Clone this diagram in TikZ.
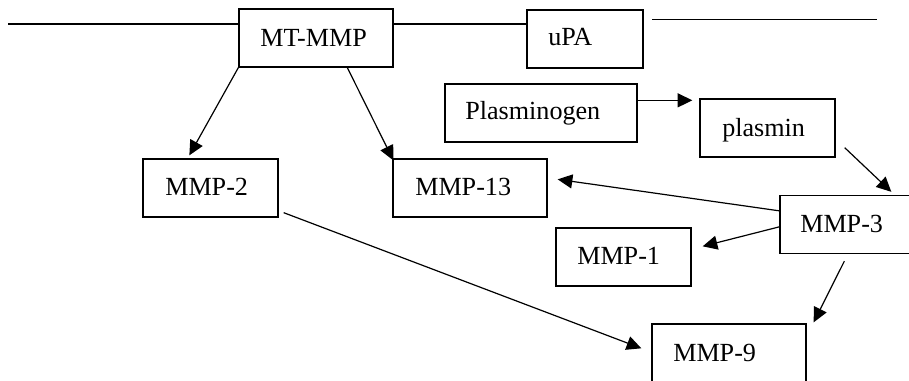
\documentclass[tikz,border=0pt]{standalone}
\usepackage{fontspec}
\setmainfont{Liberation Serif}
\usetikzlibrary{arrows.meta,calc}
\begin{document}
\begin{tikzpicture}[x=0.75pt,y=-0.75pt,
  box/.style={draw,line width=1pt,minimum width=#1*0.75pt,minimum height=43.5pt,inner sep=0pt},
  txt/.style={anchor=base west,inner sep=0pt,font=\fontsize{19.6}{23}\selectfont},
  arr/.style={line width=0.9pt,-{Triangle[length=11pt,width=10.5pt]}},
  plain/.style={line width=0.9pt}]
\useasboundingbox (0,0) rectangle (909,381);
\clip (0,0) rectangle (909,381);
% boxes
\node[box=154] (mt)  at (316,38)    {};
\node[box=116] (upa) at (585,39)    {};
\node[box=192] (plg) at (541,113)   {};
\node[box=135] (pls) at (767.5,128) {};
\node[box=135] (m2)  at (210.5,188) {};
\node[box=154] (m13) at (470,188)   {};
\node[box=154] (m3)  at (857,224.5) {};
\node[box=135] (m1)  at (623.5,257) {};
\node[box=154] (m9)  at (729,353)   {};
% texts
\node[txt] (tmt)  at (260,47)  {MT-MMP};
\node[txt] (tupa) at (548,46)  {uPA};
\node[txt] (tplg) at (465,120) {Plasminogen};
\node[txt] (tpls) at (722,137) {plasmin};
\node[txt] (tm2)  at (165,195) {MMP-2};
\node[txt] (tm13) at (415,195) {MMP-13};
\node[txt] (tm3)  at (800,232) {MMP-3};
\node[txt] (tm1)  at (577,264) {MMP-1};
\node[txt] (tm9)  at (673,361) {MMP-9};
% membrane lines
\coordinate (l0) at (8,24);
\coordinate (r0) at (652,20);
\coordinate (r1) at (877,20);
\draw[plain] (l0) -- (l0 -| mt.west);
\draw[plain] (l0 -| mt.east) -- (l0 -| upa.west);
\draw[line width=0.75pt] (r0) -- (r1);
% arrows
\draw[arr] (mt.south west) -- ($(m2.north west)+(47,-3)$);
\draw[arr] ($(mt.south west)+(109,0)$) -- ($(m13.north west)+(1,2)$);
\draw[arr] ($(plg.north east)+(0,17)$) -- ($(pls.north west)+(-7,2)$);
\draw[arr] ($(pls.south east)+(9,-10)$) -- ($(m3.north west)+(112,-3)$);
\draw[arr] ($(m3.north west)+(0,16)$) -- ($(m13.north east)+(10,21)$);
\draw[arr] ($(m3.north west)+(0,32)$) -- ($(m1.north east)+(11,19)$);
\draw[arr] ($(m3.south west)+(65,7)$) -- ($(m9.north east)+(7,-1)$);
\draw[arr] ($(m2.south east)+(5,-5)$) -- ($(m9.north west)+(-10,25)$);
\end{tikzpicture}
\end{document}
